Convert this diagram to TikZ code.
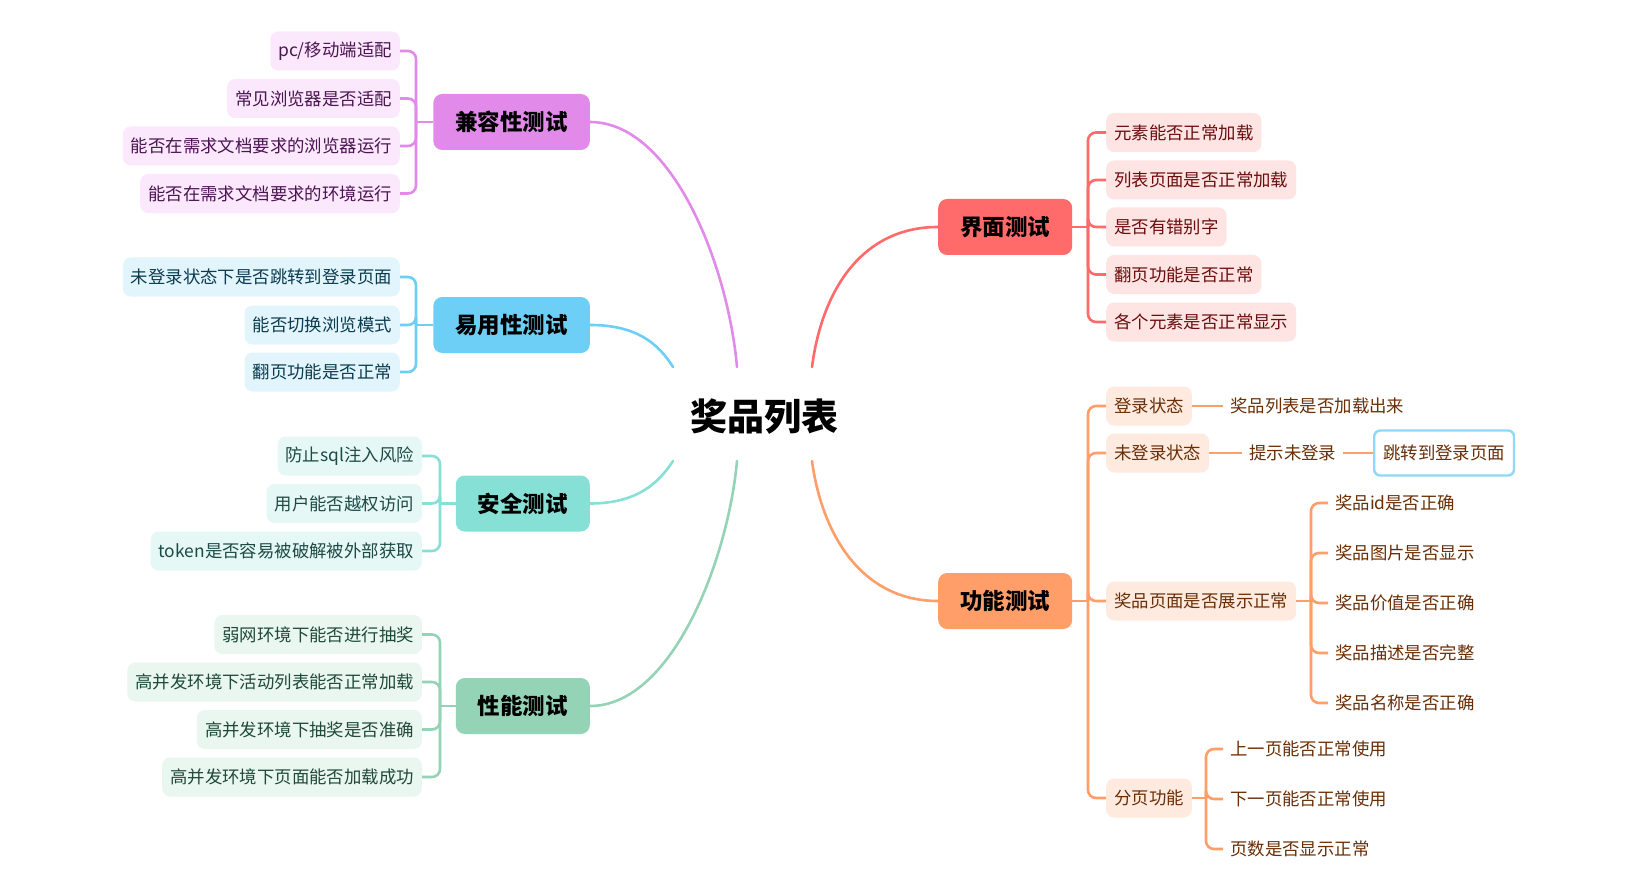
\documentclass[tikz,border=0pt]{standalone}
\usepackage{fontspec}
\setmainfont{Noto Sans CJK SC}
\definecolor{cP}{HTML}{E28AEA}\definecolor{lP}{HTML}{FBE8FC}\definecolor{tP}{HTML}{4B1452}
\definecolor{cB}{HTML}{6DCFF6}\definecolor{lB}{HTML}{E2F5FD}\definecolor{tB}{HTML}{0B3B4F}
\definecolor{cT}{HTML}{86E0D6}\definecolor{lT}{HTML}{E6F8F6}\definecolor{tT}{HTML}{1C4A45}
\definecolor{cG}{HTML}{95D3B6}\definecolor{lG}{HTML}{EAF6F0}\definecolor{tG}{HTML}{1E4A36}
\definecolor{cR}{HTML}{FF6B6B}\definecolor{lR}{HTML}{FFE4E4}\definecolor{tR}{HTML}{6B0D0D}
\definecolor{cO}{HTML}{FF9E68}\definecolor{lO}{HTML}{FFEADF}\definecolor{tO}{HTML}{6A2E05}
\definecolor{cSky}{HTML}{8ED8FA}
\begin{document}
\begin{tikzpicture}[x=1pt,y=-1pt,
  leaf/.style={rounded corners=8pt, minimum height=39pt, inner xsep=8pt, inner ysep=0pt, font=\fontsize{17.4}{20}\selectfont},
  plain/.style={minimum height=39pt, inner xsep=7pt, inner ysep=0pt, font=\fontsize{17.4}{20}\selectfont},
  branch/.style={rounded corners=9pt, minimum height=56pt, inner xsep=22pt, inner ysep=0pt, font=\bfseries\fontsize{22.5}{26}\selectfont, text=black},
  lnk/.style={line width=2.6pt, line cap=round},
  brk/.style={line width=2.6pt, rounded corners=8pt}
]
\useasboundingbox (0,0) rectangle (1643,885);
\fill[white] (0,0) rectangle (1643,885);

% root
\node[font=\bfseries\fontsize{37}{40}\selectfont] (root) at (764,417) {奖品列表};
\coordinate (rP) at (737,367);
\coordinate (rB) at (673,367);
\coordinate (rT) at (673,461);
\coordinate (rG) at (737,461);
\coordinate (rR) at (812,367);
\coordinate (rO) at (812,461);

% branches
\node[branch, fill=cP, anchor=east] (jr) at (590,122) {兼容性测试};
\node[branch, fill=cB, anchor=east] (yy) at (590,325) {易用性测试};
\node[branch, fill=cT, anchor=east] (aq) at (590,503.5) {安全测试};
\node[branch, fill=cG, anchor=east] (xn) at (590,706) {性能测试};
\node[branch, fill=cR, anchor=west] (jm) at (938,227) {界面测试};
\node[branch, fill=cO, anchor=west] (gn) at (938,601) {功能测试};

% curves
\draw[lnk, cP] (jr.east) .. controls (672,122) and (728,265) .. (rP);
\draw[lnk, cB] (yy.east) .. controls (636,325) and (658,343) .. (rB);
\draw[lnk, cT] (aq.east) .. controls (636,503.5) and (658,484) .. (rT);
\draw[lnk, cG] (xn.east) .. controls (672,706) and (728,560) .. (rG);
\draw[lnk, cR] (jm.west) .. controls (862,227) and (822,290) .. (rR);
\draw[lnk, cO] (gn.west) .. controls (862,601) and (822,535) .. (rO);

% 兼容性测试 leaves
\begin{scope}[every node/.style={leaf, fill=lP, text=tP, anchor=east}]
\node (jr1) at (400,51) {pc/移动端适配};
\node (jr2) at (400,98.5) {常见浏览器是否适配};
\node (jr3) at (400,146) {能否在需求文档要求的浏览器运行};
\node (jr4) at (400,193.5) {能否在需求文档要求的环境运行};
\end{scope}
\coordinate (kjr) at (416,122);
\draw[lnk, line cap=butt, cP] (jr.west) -- (kjr);
\foreach \n in {jr1,jr2,jr3,jr4} \draw[brk, cP] (kjr) |- (\n.east);

% 易用性测试 leaves
\begin{scope}[every node/.style={leaf, fill=lB, text=tB, anchor=east}]
\node (yy1) at (400,277) {未登录状态下是否跳转到登录页面};
\node (yy2) at (400,325) {能否切换浏览模式};
\node (yy3) at (400,372) {翻页功能是否正常};
\end{scope}
\coordinate (kyy) at (416,325);
\draw[lnk, line cap=butt, cB] (yy.west) -- (kyy);
\foreach \n in {yy1,yy2,yy3} \draw[brk, cB] (kyy) |- (\n.east);

% 安全测试 leaves
\begin{scope}[every node/.style={leaf, fill=lT, text=tT, anchor=east}]
\node (aq1) at (422,456) {防止sql注入风险};
\node (aq2) at (422,503.5) {用户能否越权访问};
\node (aq3) at (422,551) {token是否容易被破解被外部获取};
\end{scope}
\coordinate (kaq) at (440,503.5);
\draw[lnk, line cap=butt, cT] (aq.west) -- (kaq);
\foreach \n in {aq1,aq2,aq3} \draw[brk, cT] (kaq) |- (\n.east);

% 性能测试 leaves
\begin{scope}[every node/.style={leaf, fill=lG, text=tG, anchor=east}]
\node (xn1) at (422,634.5) {弱网环境下能否进行抽奖};
\node (xn2) at (422,682) {高并发环境下活动列表能否正常加载};
\node (xn3) at (422,729.5) {高并发环境下抽奖是否准确};
\node (xn4) at (422,777) {高并发环境下页面能否加载成功};
\end{scope}
\coordinate (kxn) at (440,706);
\draw[lnk, line cap=butt, cG] (xn.west) -- (kxn);
\foreach \n in {xn1,xn2,xn3,xn4} \draw[brk, cG] (kxn) |- (\n.east);

% 界面测试 leaves
\begin{scope}[every node/.style={leaf, fill=lR, text=tR, anchor=west}]
\node (jm1) at (1106,132.5) {元素能否正常加载};
\node (jm2) at (1106,180) {列表页面是否正常加载};
\node (jm3) at (1106,227) {是否有错别字};
\node (jm4) at (1106,274.5) {翻页功能是否正常};
\node (jm5) at (1106,322) {各个元素是否正常显示};
\end{scope}
\coordinate (kjm) at (1088,227);
\draw[lnk, line cap=butt, cR] (jm.east) -- (kjm);
\foreach \n in {jm1,jm2,jm3,jm4,jm5} \draw[brk, cR] (kjm) |- (\n.west);

% 功能测试 children
\begin{scope}[every node/.style={leaf, fill=lO, text=tO, anchor=west}]
\node (gn1) at (1106,406) {登录状态};
\node (gn2) at (1106,453) {未登录状态};
\node (gn3) at (1106,601) {奖品页面是否展示正常};
\node (gn4) at (1106,798) {分页功能};
\end{scope}
\coordinate (kgn) at (1088,601);
\draw[lnk, line cap=butt, cO] (gn.east) -- (kgn);
\foreach \n in {gn1,gn2,gn3,gn4} \draw[brk, cO] (kgn) |- (\n.west);

% 登录状态
\node[plain, text=tO, anchor=west] (d1) at (1223,406) {奖品列表是否加载出来};
\draw[lnk, line cap=butt, cO] (gn1.east) -- (d1.west);
% 未登录状态
\node[plain, text=tO, anchor=west] (w1) at (1242,453) {提示未登录};
\node[rounded corners=6pt, draw=cSky, line width=2.4pt, fill=white, text=tO, minimum height=45pt, inner xsep=9pt, inner ysep=0pt, font=\fontsize{17.4}{20}\selectfont, anchor=west] (w2) at (1373,453) {跳转到登录页面};
\draw[lnk, line cap=butt, cO] (gn2.east) -- (w1.west);
\draw[lnk, line cap=butt, cO] (w1.east) -- (w2.west);

% 奖品页面
\begin{scope}[every node/.style={plain, text=tO, anchor=west}]
\node (p1) at (1328,503) {奖品id是否正确};
\node (p2) at (1328,553) {奖品图片是否显示};
\node (p3) at (1328,603) {奖品价值是否正确};
\node (p4) at (1328,653) {奖品描述是否完整};
\node (p5) at (1328,703) {奖品名称是否正确};
\end{scope}
\coordinate (kp) at (1311,601);
\draw[lnk, line cap=butt, cO] (gn3.east) -- (kp);
\foreach \n in {p1,p2,p3,p4,p5} \draw[brk, cO] (kp) |- (\n.west);

% 分页功能
\begin{scope}[every node/.style={plain, text=tO, anchor=west}]
\node (f1) at (1223,749) {上一页能否正常使用};
\node (f2) at (1223,799) {下一页能否正常使用};
\node (f3) at (1223,849) {页数是否显示正常};
\end{scope}
\coordinate (kf) at (1206,798);
\draw[lnk, line cap=butt, cO] (gn4.east) -- (kf);
\foreach \n in {f1,f2,f3} \draw[brk, cO] (kf) |- (\n.west);
\end{tikzpicture}
\end{document}
